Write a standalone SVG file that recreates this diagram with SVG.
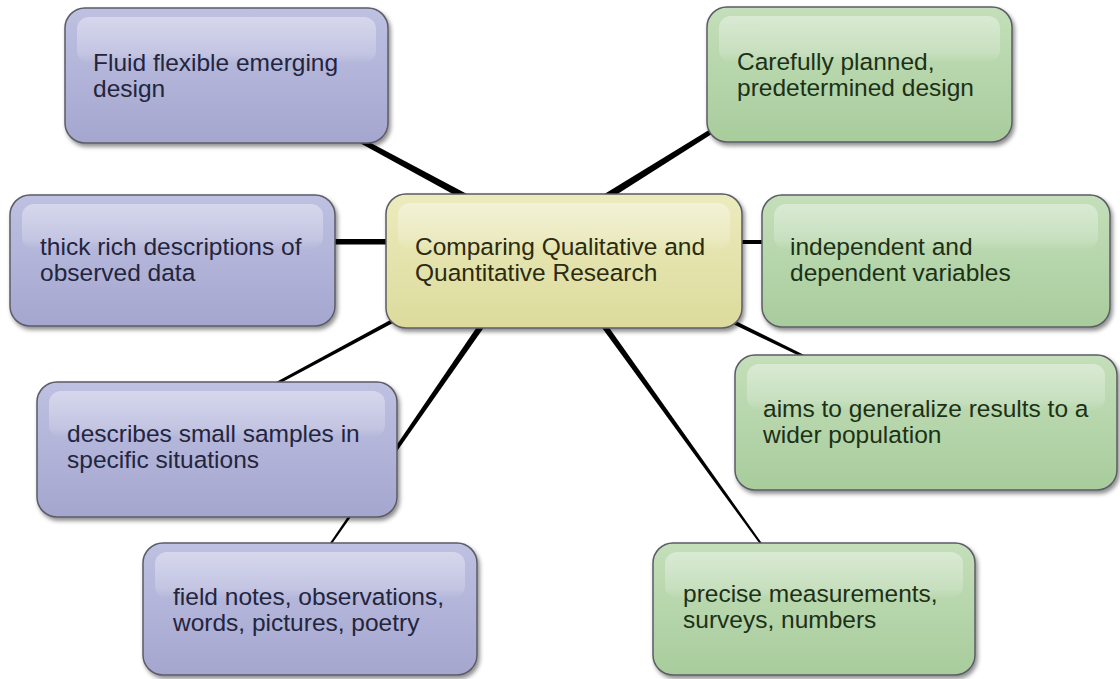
<svg xmlns="http://www.w3.org/2000/svg" width="1120" height="679" viewBox="0 0 1120 679">
  <defs>
    <linearGradient id="gPurple" x1="0" y1="0" x2="0" y2="1">
      <stop offset="0" stop-color="#bfc1e2"/>
      <stop offset="1" stop-color="#a4a6cf"/>
    </linearGradient>
    <linearGradient id="gGreen" x1="0" y1="0" x2="0" y2="1">
      <stop offset="0" stop-color="#c4dfba"/>
      <stop offset="1" stop-color="#a8cc9c"/>
    </linearGradient>
    <linearGradient id="gYellow" x1="0" y1="0" x2="0" y2="1">
      <stop offset="0" stop-color="#ecebbd"/>
      <stop offset="1" stop-color="#dcdb9c"/>
    </linearGradient>
    <linearGradient id="gGloss" x1="0" y1="0" x2="0" y2="1">
      <stop offset="0" stop-color="#ffffff" stop-opacity="0.38"/>
      <stop offset="0.8" stop-color="#ffffff" stop-opacity="0.18"/>
      <stop offset="1" stop-color="#ffffff" stop-opacity="0.02"/>
    </linearGradient>
    <filter id="shadow" x="-10%" y="-10%" width="125%" height="130%">
      <feDropShadow dx="2" dy="3" stdDeviation="2" flood-color="#000000" flood-opacity="0.45"/>
    </filter>
  </defs>
  <style>
    .box { stroke: #5b5b66; stroke-width: 1.5; filter: url(#shadow); }
    .purple { fill: url(#gPurple); }
    .green { fill: url(#gGreen); }
    .yellow { fill: url(#gYellow); }
    .gloss { fill: url(#gGloss); }
    .conn { fill: #000000; }
    text { font-family: "Liberation Sans", Arial, sans-serif; font-size: 24.5px; }
    .tp { fill: #23253d; }
    .tg { fill: #1c3117; }
    .ty { fill: #2b2a12; }
  </style>
  <rect width="1120" height="679" fill="#ffffff"/>

  <g id="connectors">
    <polygon class="conn" points="471.7,196.4 357.2,135.8 354.8,140.2 468.3,202.6"/>
    <polygon class="conn" points="604.9,202.0 721.3,128.1 718.7,123.9 601.1,196.0"/>
    <rect class="conn" x="325" y="239" width="70" height="5.5"/>
    <rect class="conn" x="735" y="240" width="35" height="4"/>
    <polygon class="conn" points="399.1,315.2 269.3,385.7 270.7,388.3 400.9,318.8"/>
    <polygon class="conn" points="481.5,320.3 324.2,551.4 325.8,552.6 486.5,323.7"/>
    <polygon class="conn" points="724.1,319.8 804.3,358.3 805.7,355.7 725.9,316.2"/>
    <polygon class="conn" points="597.6,321.8 763.2,548.6 764.8,547.4 602.4,318.2"/>
  </g>

  <g id="node-fluid">
    <rect class="box purple" x="65" y="8" width="323" height="135" rx="20"/>
    <rect class="gloss" x="77" y="17" width="299" height="46" rx="12"/>
    <text class="tp" x="93" y="71">Fluid flexible emerging</text>
    <text class="tp" x="93" y="97">design</text>
  </g>

  <g id="node-careful">
    <rect class="box green" x="707" y="7" width="305" height="135" rx="20"/>
    <rect class="gloss" x="719" y="16" width="281" height="46" rx="12"/>
    <text class="tg" x="737" y="70">Carefully planned,</text>
    <text class="tg" x="737" y="96">predetermined design</text>
  </g>

  <g id="node-thick">
    <rect class="box purple" x="10" y="195" width="325" height="131" rx="20"/>
    <rect class="gloss" x="22" y="204" width="301" height="45" rx="12"/>
    <text class="tp" x="40" y="255">thick rich descriptions of</text>
    <text class="tp" x="40" y="281">observed data</text>
  </g>

  <g id="node-center">
    <rect class="box yellow" x="386" y="194" width="356" height="134" rx="20"/>
    <rect class="gloss" x="398" y="203" width="332" height="46" rx="12"/>
    <text class="ty" x="415" y="255">Comparing Qualitative and</text>
    <text class="ty" x="415" y="281">Quantitative Research</text>
  </g>

  <g id="node-independent">
    <rect class="box green" x="762" y="195" width="348" height="132" rx="20"/>
    <rect class="gloss" x="774" y="204" width="324" height="45" rx="12"/>
    <text class="tg" x="790" y="255">independent and</text>
    <text class="tg" x="790" y="281">dependent variables</text>
  </g>

  <g id="node-aims">
    <rect class="box green" x="735" y="355" width="382" height="135" rx="20"/>
    <rect class="gloss" x="747" y="364" width="358" height="46" rx="12"/>
    <text class="tg" x="763" y="417">aims to generalize results to a</text>
    <text class="tg" x="763" y="443">wider population</text>
  </g>

  <g id="node-describes">
    <rect class="box purple" x="37" y="382" width="360" height="135" rx="20"/>
    <rect class="gloss" x="49" y="391" width="336" height="46" rx="12"/>
    <text class="tp" x="67" y="442">describes small samples in</text>
    <text class="tp" x="67" y="468">specific situations</text>
  </g>

  <g id="node-field">
    <rect class="box purple" x="143" y="543" width="334" height="132" rx="20"/>
    <rect class="gloss" x="155" y="552" width="310" height="46" rx="12"/>
    <text class="tp" x="173" y="605">field notes, observations,</text>
    <text class="tp" x="173" y="631">words, pictures, poetry</text>
  </g>

  <g id="node-precise">
    <rect class="box green" x="653" y="543" width="322" height="132" rx="20"/>
    <rect class="gloss" x="665" y="552" width="298" height="46" rx="12"/>
    <text class="tg" x="683" y="602">precise measurements,</text>
    <text class="tg" x="683" y="628">surveys, numbers</text>
  </g>
</svg>
